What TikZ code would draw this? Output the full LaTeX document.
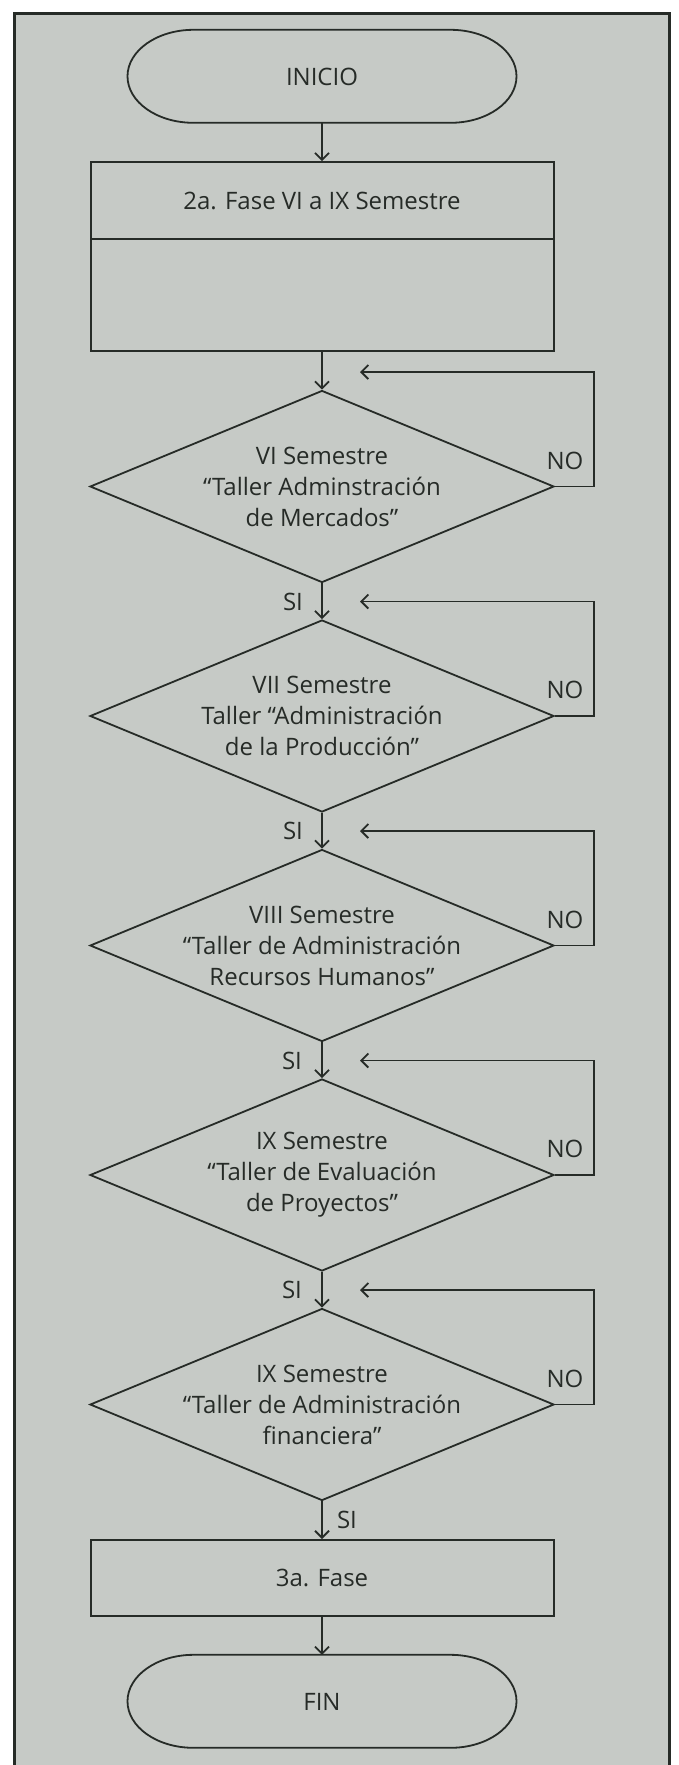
\documentclass[tikz,border=0pt]{standalone}
\usepackage{fontspec}
\setmainfont{Open Sans}
\usetikzlibrary{shapes.geometric,arrows.meta,positioning}
\pgfdeclarelayer{bg}
\pgfsetlayers{bg,main}
\definecolor{paper}{RGB}{198,202,198}
\definecolor{ink}{RGB}{38,43,39}
\tikzset{
    every node/.style={inner sep=0mm, text=ink, font=\fontsize{24}{29}\selectfont}
}
\tikzset{every label/.style={align=center, font=\fontsize{24}{31}\selectfont}}
\tikzset{
    terminal/.style={minimum width=389pt, minimum height=93pt},
    process/.style={draw=ink, line width=2pt, minimum width=463pt},
    decision/.style={diamond, draw=ink, line width=1.8pt, minimum width=464pt, minimum height=192pt},
    tag/.style={font=\fontsize{24}{28}\selectfont},
    flow/.style={draw=ink, line width=1.8pt, -{Straight Barb[length=7pt,width=14pt]}},
    outline/.style={draw=ink, line width=1.8pt}
}

\begin{document}
\begin{tikzpicture}[x=1pt, y=1pt]
        \useasboundingbox (0,0) rectangle (678,-1765);
        \begin{pgfonlayer}{bg}
                \fill [white] (0,0) rectangle (678,-1765);
                \draw [fill=paper, draw=ink, line width=3pt] (14,-13) rectangle (669,-1780);
        \end{pgfonlayer}
        \node (inicio) [terminal] at (322,-76.5) {INICIO};
        \node (fase) [process, minimum height=77pt] at (322,-200.7) {2a. Fase VI a IX Semestre};
        \node (fasebox) [process, minimum height=112pt, below=-2pt of fase] {};
        \node (d1) [decision, label=center:{VI Semestre\\“Taller Adminstración\\de Mercados”}] at (322,-486.5) {};
        \node (d2) [decision, label=center:{VII Semestre\\Taller “Administración\\de la Producción”}] at (322,-716) {};
        \node (d3) [decision, label=center:{VIII Semestre\\“Taller de Administración\\Recursos Humanos”}] at (322,-945.5) {};
        \node (d4) [decision, label=center:{IX Semestre\\“Taller de Evaluación\\de Proyectos”}] at (322,-1175) {};
        \node (d5) [decision, label=center:{IX Semestre\\“Taller de Administración\\financiera”}] at (322,-1404.5) {};
        \node (fase3) [process, minimum height=76pt] at (322,-1578) {3a. Fase};
        \node (fin) [terminal] at (322,-1701.5) {FIN};
        \node (no1) [tag] at (565,-460.5) {NO};
        \node (no2) [tag] at (565,-690) {NO};
        \node (no3) [tag] at (565,-919.5) {NO};
        \node (no4) [tag] at (565,-1149) {NO};
        \node (no5) [tag] at (565,-1378.5) {NO};
        \node (si1) [tag] at (293,-601.5) {SI};
        \node (si2) [tag] at (293,-831) {SI};
        \node (si3) [tag] at (292,-1060.5) {SI};
        \node (si4) [tag] at (292,-1290) {SI};
        \node (si5) [tag] at (347,-1520) {SI};
        \coordinate (r1) at (360,-372);
        \coordinate (r2) at (360,-601.5);
        \coordinate (r3) at (360,-831);
        \coordinate (r4) at (360,-1060.5);
        \coordinate (r5) at (360,-1290);
        \begin{pgfonlayer}{bg}
                \draw [outline] (inicio.north) -- ++(128.5,0) arc [start angle=90, end angle=-90, x radius=66, y radius=46.5] -- ++(-257,0) arc [start angle=270, end angle=90, x radius=66, y radius=46.5] -- cycle;
                \draw [outline] (fin.north) -- ++(128.5,0) arc [start angle=90, end angle=-90, x radius=66, y radius=46.5] -- ++(-257,0) arc [start angle=270, end angle=90, x radius=66, y radius=46.5] -- cycle;
                \draw [flow] (inicio.south) -- (fase.north);
                \draw [flow] (fasebox.south) -- (d1.north);
                \draw [flow] (d1.south) -- (d2.north);
                \draw [flow] (d2.south) -- (d3.north);
                \draw [flow] (d3.south) -- (d4.north);
                \draw [flow] (d4.south) -- (d5.north);
                \draw [flow] (d5.south) -- (fase3.north);
                \draw [flow] (fase3.south) -- (fin.north);
                \draw [flow] (d1.east) -- ++(39,0) |- (r1);
                \draw [flow] (d2.east) -- ++(39,0) |- (r2);
                \draw [flow] (d3.east) -- ++(39,0) |- (r3);
                \draw [flow] (d4.east) -- ++(39,0) |- (r4);
                \draw [flow] (d5.east) -- ++(39,0) |- (r5);
        \end{pgfonlayer}
\end{tikzpicture}
\end{document}
